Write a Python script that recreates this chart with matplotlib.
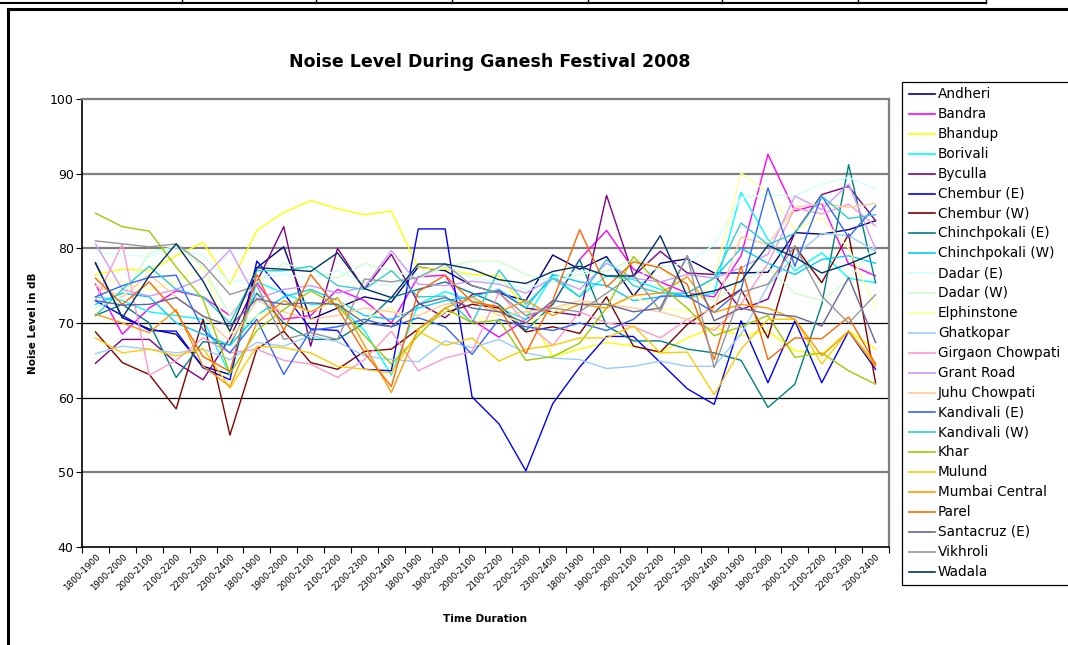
# Noise level during Ganesh festival 2008 - line chart of 25 stations

import matplotlib
matplotlib.use("Agg")
import matplotlib.pyplot as plt
from matplotlib.lines import Line2D
from matplotlib.patches import Rectangle

# time slots, repeated for the five festival days
time_slots = ["1800-1900", "1900-2000", "2000-2100", "2100-2200", "2200-2300", "2300-2400"]
n_days = 5
time_labels = time_slots * n_days

# noise levels (dB), 30 readings per station
andheri = [78.0, 70.7, 69.2, 68.5, 64.2, 63.1, 77.4, 80.2, 70.5, 72.0, 73.5, 72.8, 77.5, 77.0, 75.0,
           74.0, 73.0, 79.1, 77.2, 78.9, 73.6, 78.0, 78.6, 76.7, 76.7, 76.8, 82.1, 81.9, 82.5, 83.7]
bandra = [75.2, 68.5, 72.0, 74.3, 73.5, 71.0, 75.4, 70.5, 71.0, 74.5, 73.0, 70.0, 76.2, 76.4, 70.4,
          68.1, 70.5, 72.5, 78.5, 82.4, 77.2, 75.5, 74.0, 73.5, 79.0, 92.6, 85.0, 86.0, 77.9, 76.3]
bhandup = [76.5, 77.2, 77.0, 79.0, 80.8, 75.2, 82.4, 84.8, 86.4, 85.3, 84.5, 85.0, 77.4, 77.2, 76.5,
           76.3, 72.0, 65.5, 66.5, 67.4, 66.9, 66.0, 68.0, 69.4, 68.3, 68.9, 66.3, 65.8, 68.9, 66.5]
borivali = [73.5, 73.0, 71.5, 71.0, 70.5, 63.0, 75.5, 74.0, 72.5, 72.5, 69.0, 63.0, 72.5, 74.2, 73.0,
            72.0, 70.5, 76.4, 73.5, 76.3, 75.8, 74.5, 73.4, 74.0, 87.5, 81.2, 77.0, 79.4, 76.0, 75.4]
byculla = [64.6, 67.8, 67.8, 64.7, 62.4, 68.0, 75.5, 82.9, 66.9, 80.0, 74.5, 79.2, 72.7, 70.7, 73.8,
           74.3, 72.0, 71.5, 71.0, 87.1, 76.3, 79.6, 76.7, 76.5, 71.8, 73.2, 82.1, 87.2, 88.3, 83.7]
chembur_e = [73.0, 71.0, 69.0, 68.9, 64.0, 62.4, 78.3, 74.0, 69.2, 69.0, 63.8, 63.6, 82.6, 82.6, 60.1,
             56.5, 50.2, 59.2, 64.1, 68.2, 68.2, 64.7, 61.2, 59.1, 70.3, 62.0, 70.3, 62.0, 68.9, 63.8]
chembur_w = [68.8, 64.7, 63.1, 58.5, 70.5, 55.0, 66.5, 68.9, 64.7, 63.8, 66.2, 66.5, 69.2, 71.4, 72.5,
             72.0, 68.8, 69.5, 68.6, 73.5, 66.9, 66.1, 69.8, 72.3, 74.5, 68.0, 80.3, 75.4, 81.9, 62.0]
chinchpokali_e = [71.0, 72.5, 70.0, 62.7, 67.5, 67.1, 74.0, 70.0, 67.8, 67.8, 70.0, 73.4, 74.5, 75.5, 74.0,
                  72.5, 69.0, 72.5, 78.5, 69.6, 67.6, 67.6, 66.5, 66.0, 65.0, 58.7, 61.8, 72.5, 91.2, 75.4]
chinchpokali_w = [72.5, 74.0, 73.5, 70.0, 68.5, 67.0, 71.0, 73.5, 74.5, 73.0, 71.0, 70.5, 72.0, 73.0, 73.5,
                  74.5, 72.0, 76.5, 75.5, 75.0, 73.0, 73.5, 74.0, 76.0, 80.0, 78.0, 76.5, 78.5, 79.0, 78.0]
dadar_e = [79.5, 79.1, 78.9, 80.1, 79.0, 75.5, 76.0, 76.5, 76.0, 77.0, 75.5, 75.0, 76.5, 77.5, 76.0,
           75.5, 74.5, 76.0, 77.0, 76.5, 76.0, 77.5, 78.0, 80.5, 86.8, 87.2, 87.0, 88.6, 89.5, 87.9]
dadar_w = [72.0, 73.5, 79.4, 80.3, 77.5, 71.0, 75.5, 78.0, 77.0, 76.0, 78.0, 77.0, 76.0, 77.5, 78.3,
           78.3, 76.5, 75.5, 76.5, 77.0, 78.5, 77.5, 74.0, 73.0, 75.5, 77.5, 74.0, 73.0, 75.8, 80.5]
elphinstone = [76.0, 75.5, 74.5, 75.5, 77.5, 68.5, 71.0, 72.5, 71.5, 73.0, 70.5, 72.0, 69.0, 71.5, 70.5,
               71.0, 70.0, 71.5, 73.0, 72.0, 73.5, 72.0, 71.5, 76.0, 90.1, 87.5, 82.5, 84.1, 80.0, 72.1]
ghatkopar = [65.9, 66.9, 66.5, 66.0, 66.5, 65.1, 67.4, 66.9, 68.3, 67.5, 65.6, 65.1, 64.8, 67.6, 66.7,
             67.8, 66.0, 65.3, 65.1, 63.9, 64.2, 64.9, 64.2, 64.2, 68.5, 75.0, 79.0, 82.0, 81.7, 79.6]
girgaon_chowpati = [73.0, 80.6, 63.0, 65.0, 68.0, 66.0, 66.5, 65.0, 64.5, 62.7, 65.1, 68.9, 63.6, 65.3, 66.2,
                    74.1, 70.0, 67.0, 71.5, 70.0, 69.5, 68.0, 70.5, 69.0, 72.5, 78.0, 85.4, 84.6, 85.9, 83.0]
grant_road = [80.6, 74.5, 73.6, 74.5, 76.0, 79.8, 73.2, 74.5, 75.0, 74.0, 74.8, 79.7, 75.2, 75.0, 75.6,
              75.2, 74.0, 76.0, 74.5, 78.0, 76.0, 75.5, 76.5, 76.0, 77.4, 79.2, 87.0, 85.2, 88.6, 79.9]
juhu_chowpati = [75.0, 73.5, 76.5, 73.5, 71.0, 67.5, 73.0, 71.5, 70.5, 71.0, 72.0, 71.5, 71.0, 72.5, 73.0,
                 71.0, 71.5, 72.0, 73.0, 72.5, 72.0, 71.5, 70.5, 72.0, 81.5, 80.5, 85.5, 86.0, 85.5, 86.0]
kandivali_e = [73.5, 75.0, 76.1, 76.4, 69.1, 66.0, 70.5, 63.1, 69.0, 69.5, 70.5, 69.5, 70.7, 69.5, 65.8,
               70.5, 69.5, 69.0, 70.0, 69.0, 70.5, 73.6, 73.6, 71.4, 74.5, 88.1, 77.6, 87.0, 81.5, 85.7]
kandivali_w = [71.0, 74.5, 77.6, 74.5, 73.5, 70.0, 77.0, 77.0, 77.6, 75.0, 74.5, 77.0, 73.5, 73.6, 70.0,
               77.1, 72.5, 76.0, 73.5, 78.5, 75.0, 74.0, 74.0, 76.0, 83.4, 80.5, 82.0, 87.0, 84.0, 84.5]
khar = [84.7, 82.9, 82.3, 77.5, 73.2, 63.2, 69.0, 71.8, 74.3, 72.3, 68.3, 64.5, 68.3, 72.0, 70.0,
        70.4, 65.0, 65.5, 67.3, 72.0, 78.9, 75.0, 72.0, 68.3, 69.5, 71.0, 65.4, 66.0, 63.6, 61.8]
mulund = [68.0, 66.0, 66.5, 65.6, 66.6, 61.3, 66.9, 66.7, 66.0, 64.2, 63.8, 63.3, 68.9, 67.0, 68.0,
          64.9, 66.5, 67.0, 68.0, 68.0, 69.6, 66.0, 66.1, 60.4, 66.5, 70.5, 70.5, 64.5, 69.0, 64.5]
mumbai_central = [71.2, 70.0, 68.7, 71.8, 64.2, 61.5, 70.0, 73.0, 71.5, 73.4, 67.0, 60.7, 69.2, 72.0, 73.5,
                  71.5, 73.0, 71.0, 72.5, 72.0, 73.7, 74.0, 76.2, 71.4, 72.5, 72.0, 70.5, 65.6, 68.9, 64.2]
parel = [76.0, 72.5, 75.5, 71.5, 65.5, 63.5, 76.5, 69.0, 76.5, 72.0, 66.0, 61.5, 74.2, 76.4, 72.8,
         72.2, 65.9, 73.0, 82.5, 74.8, 78.2, 77.4, 75.2, 65.1, 77.6, 65.1, 68.0, 67.9, 70.8, 64.5]
santacruz_e = [73.0, 72.4, 72.5, 73.4, 70.9, 69.6, 73.2, 72.5, 72.7, 72.5, 70.0, 69.5, 72.5, 73.4, 72.0,
               71.5, 70.0, 73.0, 72.5, 72.5, 71.5, 72.0, 79.0, 70.3, 72.0, 71.2, 70.9, 69.6, 76.1, 67.4]
vikhroli = [81.0, 80.6, 80.2, 80.6, 77.9, 73.8, 75.0, 67.8, 68.7, 67.8, 75.9, 75.5, 76.1, 77.9, 75.0,
            74.0, 71.0, 72.0, 71.5, 74.0, 76.5, 71.6, 79.0, 64.0, 74.1, 75.2, 80.3, 73.6, 70.0, 73.8]
wadala = [78.1, 70.7, 76.3, 80.6, 75.6, 68.9, 77.4, 77.2, 76.9, 79.4, 74.6, 73.4, 77.9, 77.9, 77.2,
          75.8, 75.3, 76.9, 77.6, 76.3, 76.3, 81.7, 73.6, 74.3, 75.6, 80.4, 78.8, 76.7, 77.9, 79.4]

stations = ["Andheri", "Bandra", "Bhandup", "Borivali", "Byculla", "Chembur (E)", "Chembur (W)",
            "Chinchpokali (E)", "Chinchpokali (W)", "Dadar (E)", "Dadar (W)", "Elphinstone",
            "Ghatkopar", "Girgaon Chowpati", "Grant Road", "Juhu Chowpati", "Kandivali (E)",
            "Kandivali (W)", "Khar", "Mulund", "Mumbai Central", "Parel", "Santacruz (E)",
            "Vikhroli", "Wadala"]
series = [andheri, bandra, bhandup, borivali, byculla, chembur_e, chembur_w, chinchpokali_e,
          chinchpokali_w, dadar_e, dadar_w, elphinstone, ghatkopar, girgaon_chowpati, grant_road,
          juhu_chowpati, kandivali_e, kandivali_w, khar, mulund, mumbai_central, parel,
          santacruz_e, vikhroli, wadala]

# old excel palette
colors = ["#000080", "#FF00FF", "#FFFF00", "#00FFFF", "#800080", "#0000FF", "#800000", "#008080",
          "#00CCFF", "#CCFFFF", "#CCFFCC", "#FFFF99", "#99CCFF", "#FF99CC", "#CC99FF", "#FFCC99",
          "#3366FF", "#33CCCC", "#99CC00", "#FFCC00", "#FF9900", "#FF6600", "#666699", "#969696",
          "#003366"]

W, H = 1068, 645
fig = plt.figure(figsize=(W / 100, H / 100), dpi=100)


def fx(px):
    return px / W


def fy(py):
    return 1 - py / H


# sheet cell borders above the chart
fig.add_artist(Line2D([0, fx(986)], [fy(2.5), fy(2.5)], color="black", lw=1.5))
for sx in [182, 316, 452, 588, 722, 858, 986]:
    fig.add_artist(Line2D([fx(sx), fx(sx)], [fy(0), fy(2.5)], color="black", lw=1.0))
# chart frame
fig.add_artist(Line2D([fx(8), 1], [fy(9), fy(9)], color="black", lw=2.2))
fig.add_artist(Line2D([fx(8), fx(8)], [fy(9), 0], color="black", lw=2.2))

ax = fig.add_axes([fx(82), fy(547), fx(889) - fx(82), fy(99) - fy(547)])

x = list(range(len(time_labels)))
for name, vals, c in zip(stations, series, colors):
    ax.plot(x, vals, color=c, lw=1.0, label=name, zorder=3)

ax.set_xlim(-0.5, len(time_labels) - 0.5)
ax.set_ylim(40, 100)
ax.set_yticks(range(40, 101, 10))
ax.tick_params(axis="y", direction="out", length=4, width=0.8, labelsize=9, pad=2)

# gridlines, drawn the way the old chart shows them
for g in [50, 80, 90]:
    ax.axhline(g, color="#7f7f7f", lw=1.6, zorder=1)
for g in [60, 70]:
    ax.axhline(g, color="black", lw=0.9, zorder=1)

ax.set_xticks([i - 0.5 for i in range(len(time_labels) + 1)])
ax.set_xticklabels([])
ax.tick_params(axis="x", direction="out", length=4, width=0.8)
ax.set_xticks(x, minor=True)
ax.set_xticklabels(time_labels, minor=True, rotation=45, ha="right", rotation_mode="anchor",
                   fontsize=6.3)
ax.tick_params(axis="x", which="minor", length=0, pad=4)

for s in ["left", "bottom"]:
    ax.spines[s].set_color("black")
    ax.spines[s].set_linewidth(1.2)
for s in ["top", "right"]:
    ax.spines[s].set_color("#7f7f7f")
    ax.spines[s].set_linewidth(1.6)

fig.text(fx(490), fy(62), "Noise Level During Ganesh Festival 2008", ha="center", va="center",
         fontsize=12.5, fontweight="bold")
fig.text(fx(485), fy(619), "Time Duration", ha="center", va="center", fontsize=7.5,
         fontweight="bold")
fig.text(fx(33), fy(323), "Noise Level in dB", ha="center", va="center", rotation=90,
         fontsize=7.5, fontweight="bold")

# legend box, runs off the right edge like the original
fig.add_artist(Rectangle((fx(902), fy(585)), fx(200), fy(82) - fy(585), facecolor="white",
                         edgecolor="black", lw=0.9))
for k, (name, c) in enumerate(zip(stations, colors)):
    yy = fy(94 + 19.9 * k)
    fig.add_artist(Line2D([fx(909), fx(935)], [yy, yy], color=c, lw=1.2))
    fig.text(fx(938), yy, name, ha="left", va="center", fontsize=9.8)

fig.savefig("out.png", dpi=100)
